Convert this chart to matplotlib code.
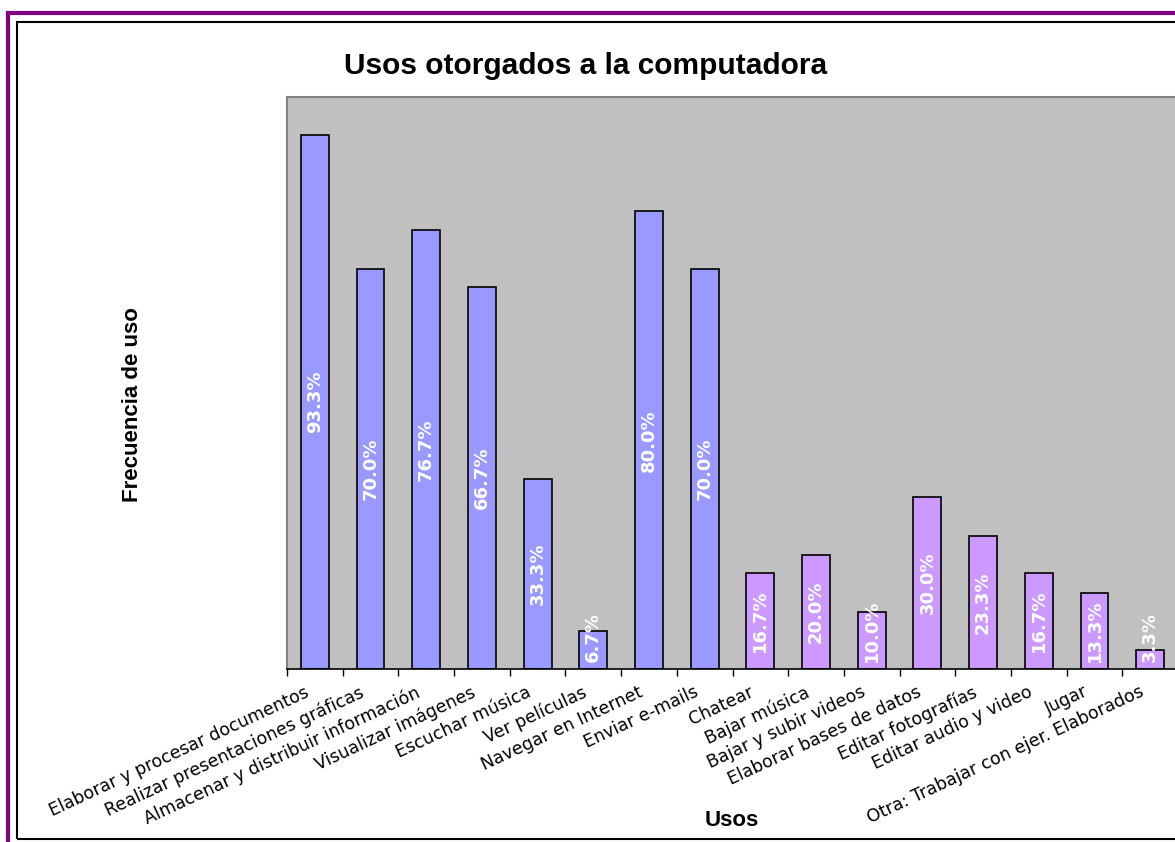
import matplotlib
matplotlib.use("Agg")
import matplotlib.pyplot as plt
from matplotlib.patches import Rectangle
import matplotlib.transforms as mtransforms

# datos del grafico
usos = ["Elaborar y procesar documentos", "Realizar presentaciones gráficas",
        "Almacenar y distribuir información", "Visualizar imágenes", "Escuchar música",
        "Ver películas", "Navegar en Internet", "Enviar e-mails", "Chatear", "Bajar música",
        "Bajar y subir videos", "Elaborar bases de datos", "Editar fotografías",
        "Editar audio y video", "Jugar", "Otra: Trabajar con ejer. Elaborados"]
frecuencia = [93.3, 70.0, 76.7, 66.7, 33.3, 6.7, 80.0, 70.0, 16.7, 20.0, 10.0, 30.0, 23.3, 16.7, 13.3, 3.3]
grupo = ["a"] * 8 + ["b"] * 8
colores_grupo = {"a": "#9999FF", "b": "#CC99FF"}

W, H = 1175, 842
fig = plt.figure(figsize=(W / 100, H / 100), dpi=100)

# zona del grafico (en pixeles de la imagen)
x0, x1, y_top, y_bot = 287, 1178, 97, 669
ax = fig.add_axes([x0 / W, 1 - y_bot / H, (x1 - x0) / W, (y_bot - y_top) / H])
ax.set_facecolor("#C0C0C0")

pos = list(range(len(usos)))
ax.bar(pos, frecuencia, width=0.5, color=[colores_grupo[g] for g in grupo],
       edgecolor="black", linewidth=1.2, zorder=2)
ax.set_xlim(-0.5, len(usos) - 0.5)
ax.set_ylim(0, 100)
ax.set_yticks([])
ax.set_xticks([p - 0.5 for p in pos])
ax.set_xticklabels([])
ax.tick_params(axis="x", direction="out", length=5, width=1, color="black")
for s in ["left", "top", "right"]:
    ax.spines[s].set_color("#808080")
    ax.spines[s].set_linewidth(1.5)
ax.spines["bottom"].set_color("black")
ax.spines["bottom"].set_linewidth(1.2)

# etiquetas de categoria giradas
off = mtransforms.ScaledTranslation(-11 / 100, -14 / 100, fig.dpi_scale_trans)
trans = mtransforms.blended_transform_factory(ax.transData, ax.transAxes) + off
for p, u in zip(pos, usos):
    ax.text(p, 0, u, transform=trans, rotation=25, rotation_mode="anchor",
            ha="right", va="top", fontsize=12.5, family="DejaVu Sans", clip_on=False)

# etiquetas de valor dentro de las barras
etiquetas = []
for p, v in zip(pos, frecuencia):
    t = ax.text(p, v / 2, "%.1f%%" % v, rotation=90, ha="center", va="center",
                color="white", fontsize=13, fontweight="bold", family="DejaVu Sans", zorder=3)
    etiquetas.append((t, v))
fig.canvas.draw()
r = fig.canvas.get_renderer()
px_por_unidad = (y_bot - y_top) / 100
for t, v in etiquetas:
    largo = t.get_window_extent(r).height / px_por_unidad
    minimo = largo / 2 + 7 / px_por_unidad
    if v / 2 < minimo:
        t.set_y(minimo)

fig.text(586 / W, 1 - 66 / H, "Usos otorgados a la computadora", ha="center", va="center",
         fontsize=21.5, fontweight="bold", family="Liberation Sans")
fig.text(132 / W, 1 - 405 / H, "Frecuencia de uso", rotation=90, ha="center", va="center",
         fontsize=16, fontweight="bold", family="Liberation Sans")
fig.text(732 / W, 1 - 820 / H, "Usos", ha="center", va="center",
         fontsize=16, fontweight="bold", family="Liberation Sans")

# marcos
fig.add_artist(Rectangle((8 / W, -20 / H), 1.5, (H + 20 - 13) / H, transform=fig.transFigure,
                         fill=False, edgecolor="#800080", linewidth=3))
fig.add_artist(Rectangle((17 / W, 1 - 839 / H), 1.5, (839 - 22) / H, transform=fig.transFigure,
                         fill=False, edgecolor="black", linewidth=1.5))

fig.savefig("out.png", dpi=100)
